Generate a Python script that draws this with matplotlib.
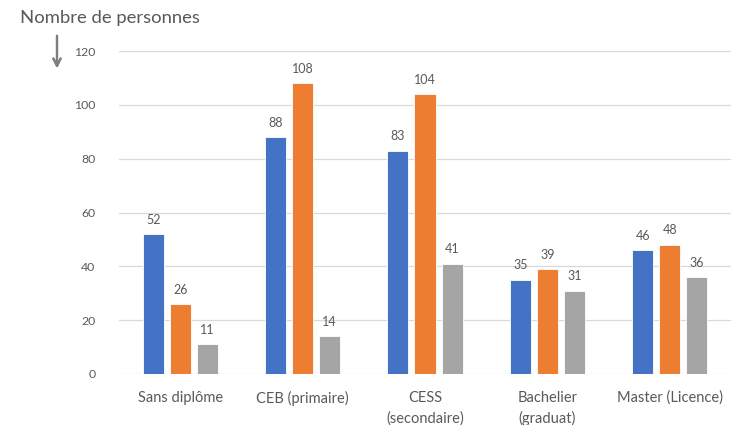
import matplotlib.pyplot as plt
import numpy as np

categories = ["Sans diplôme", "CEB (primaire)", "CESS\n(secondaire)", "Bachelier\n(graduat)", "Master (Licence)"]
series_a = [52, 88, 83, 35, 46]
series_b = [26, 108, 104, 39, 48]
series_c = [11, 14, 41, 31, 36]
yticks = [0, 20, 40, 60, 80, 100, 120]

colors = ["#4472C4", "#ED7D31", "#A5A5A5"]
text_color = "#595959"

plt.rcParams['font.family'] = ['Lato', 'DejaVu Sans']

fig = plt.figure(figsize=(7.33, 4.25), dpi=100)
ax = fig.add_axes([119 / 733, 1 - 374 / 425, (731 - 119) / 733, (374 - 51) / 425])

x = np.arange(len(categories))
width = 0.172
step = 0.221
for i, (vals, col) in enumerate(zip([series_a, series_b, series_c], colors)):
    pos = x + (i - 1) * step
    ax.bar(pos, vals, width=width, color=col, edgecolor="white", linewidth=0.6, zorder=3)
    for px, v in zip(pos, vals):
        ax.annotate(str(v), (px, v), xytext=(0, 6), textcoords="offset points",
                    ha="center", va="bottom", fontsize=9, color=text_color)

ax.set_xlim(-0.5, len(categories) - 0.5)
ax.set_ylim(0, 120)
ax.set_yticks(yticks)
ax.set_yticklabels([str(t) for t in yticks])
ax.set_xticks(x)
ax.set_xticklabels(categories, fontsize=10.5, color=text_color, linespacing=1.55)
ax.tick_params(axis="y", length=0, pad=17, labelsize=8.8, labelcolor=text_color)
ax.tick_params(axis="x", length=0, pad=12)
ax.grid(axis="y", color="#D9D9D9", linewidth=0.9, zorder=0)
for s in ax.spines.values():
    s.set_visible(False)

fig.text(20 / 733, 1 - 18 / 425, "Nombre de personnes", fontsize=13.3, color=text_color,
         ha="left", va="center")
fig.add_artist(plt.annotate("", xy=(57 / 733, 1 - 71 / 425), xytext=(57 / 733, 1 - 33 / 425),
                            xycoords="figure fraction", textcoords="figure fraction",
                            arrowprops=dict(arrowstyle="->", color="#7F7F7F", lw=1.6,
                                            mutation_scale=13)))

fig.savefig("out.png", dpi=100)
